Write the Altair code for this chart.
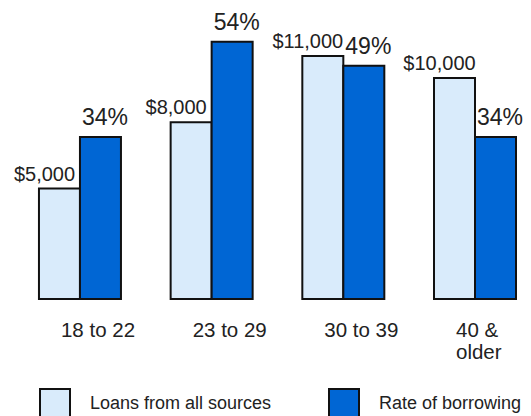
import altair as alt
import pandas as pd

categories = ["18 to 22", "23 to 29", "30 to 39", "40 & older"]
loans = [5000, 8000, 11000, 10000]
rates = [34, 54, 49, 34]
series = ["Loans from all sources", "Rate of borrowing"]
colors = ["#D9EBFB", "#0066D4"]

df = pd.DataFrame({
    "category": categories,
    "loans": loans,
    "rate": rates,
})
df["loan_label"] = ["$" + f"{v:,}" for v in loans]
df["rate_label"] = [f"{v}%" for v in rates]
df["s_loans"] = series[0]
df["s_rate"] = series[1]

FONT = "Liberation Sans"

xenc = alt.X(
    "category:N",
    sort=categories,
    scale=alt.Scale(paddingInner=0.377, paddingOuter=0.144, align=0.816),
    axis=alt.Axis(
        title=None, domain=False, ticks=False, grid=False,
        labelAngle=0, labelAlign="left", labelOffset=-19, labelBaseline="top",
        labelPadding=21, labelFontSize=20.5, labelFont=FONT, labelColor="#222",
        labelLineHeight=22,
        labelExpr="datum.label == '40 & older' ? ['40 &', 'older'] : datum.label",
    ),
)

color_scale = alt.Scale(domain=series, range=colors)
legend = alt.Legend(
    orient="none", legendX=31, legendY=380, direction="horizontal", title=None,
    symbolType="square", symbolSize=900, symbolStrokeColor="#111",
    symbolStrokeWidth=2, symbolOpacity=1, labelFontSize=18, labelOffset=19,
    columnPadding=53, labelFont=FONT, labelColor="#222", padding=0,
    labelLimit=400,
)

base = alt.Chart(df)
y_loans = alt.Y("loans:Q", scale=alt.Scale(domain=[0, 13170], nice=False), axis=None)
y_rate = alt.Y("rate:Q", scale=alt.Scale(domain=[0, 61.1], nice=False), axis=None)

bar_loans = base.mark_bar(width=41, xOffset=-20.5, stroke="#111", strokeWidth=2).encode(
    x=xenc, y=y_loans,
    color=alt.Color("s_loans:N", scale=color_scale, legend=legend),
)
txt_loans = base.mark_text(xOffset=-35.5, dy=-8, baseline="alphabetic", fontSize=20,
                           font=FONT, color="#222").encode(
    x=xenc, y=y_loans, text="loan_label:N",
)
bar_rate = base.mark_bar(width=41, xOffset=20.5, stroke="#111", strokeWidth=2).encode(
    x=xenc, y=y_rate,
    color=alt.Color("s_rate:N", scale=color_scale, legend=legend),
)
txt_rate = base.mark_text(xOffset=25, dy=-12, baseline="alphabetic", fontSize=23,
                          font=FONT, color="#222").encode(
    x=xenc, y=y_rate, text="rate_label:N",
)

chart = alt.layer(
    alt.layer(bar_loans, txt_loans),
    alt.layer(bar_rate, txt_rate),
).resolve_scale(y="independent").properties(
    width=515, height=291,
    autosize=alt.AutoSizeParams(type="none"),
    padding={"left": 0, "top": 0, "right": 0, "bottom": 117},
).configure(font=FONT).configure_view(stroke=None)

chart.save("out.html", embed_options={"renderer": "svg", "actions": False})
